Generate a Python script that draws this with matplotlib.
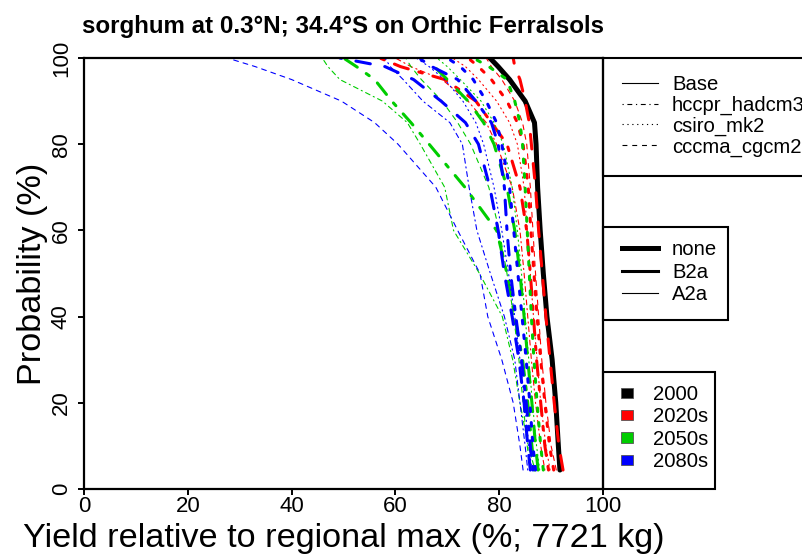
import numpy as np
import matplotlib.pyplot as plt
from matplotlib.lines import Line2D
from matplotlib.patches import Patch, Rectangle

plt.rcParams['font.family'] = 'Liberation Sans'

# probability levels (%) shared by all curves
prob = [4.4, 10, 20, 30, 40, 50, 60, 70, 80, 85, 90, 95, 98, 100]

# yield relative to regional max (%) at each probability level
base_2000 = [91.7, 91.4, 90.9, 90.2, 89.2, 88.5, 87.9, 87.4, 87.1, 86.8, 85.0, 82.0, 79.8, 78.2]

hccpr_b2a_2020s = [89.5, 88.8, 88.0, 87.2, 86.6, 86.0, 85.3, 84.0, 81.5, 78.5, 75.5, 69.5, 61.0, 57.0]
hccpr_a2a_2020s = [88.8, 88.0, 87.0, 86.2, 85.5, 84.8, 84.0, 82.5, 79.5, 77.5, 74.0, 69.0, 63.0, 60.0]
csiro_b2a_2020s = [90.5, 89.7, 88.8, 88.0, 87.3, 86.7, 86.1, 85.6, 84.6, 83.5, 81.5, 78.5, 76.0, 74.0]
csiro_a2a_2020s = [89.8, 89.0, 88.0, 87.3, 86.6, 86.0, 85.4, 84.8, 83.5, 82.0, 79.5, 76.0, 73.5, 71.0]
cccma_b2a_2020s = [92.3, 91.5, 90.6, 89.8, 89.0, 88.3, 87.6, 87.0, 86.2, 85.8, 85.0, 84.0, 83.0, 82.7]
cccma_a2a_2020s = [91.0, 90.0, 89.0, 88.2, 87.6, 87.0, 86.5, 86.0, 85.3, 84.5, 83.0, 80.5, 78.5, 77.5]

hccpr_b2a_2050s = [86.8, 86.3, 85.5, 84.5, 83.0, 81.5, 79.5, 73.4, 66.5, 63.0, 59.3, 56.0, 52.5, 50.0]
hccpr_a2a_2050s = [86.9, 85.6, 84.0, 82.6, 80.6, 76.2, 71.2, 69.5, 64.8, 62.3, 57.5, 49.3, 47.0, 45.9]
csiro_b2a_2050s = [88.5, 88.0, 87.3, 86.7, 86.2, 85.8, 85.4, 85.0, 84.5, 84.0, 83.0, 81.5, 78.0, 75.0]
csiro_a2a_2050s = [87.8, 87.2, 86.4, 85.7, 85.0, 84.3, 83.5, 82.5, 80.8, 79.0, 76.5, 72.5, 70.0, 68.0]
cccma_b2a_2050s = [87.5, 87.0, 86.3, 85.5, 84.8, 84.0, 83.0, 81.5, 79.0, 77.0, 74.0, 70.0, 67.5, 66.0]
cccma_a2a_2050s = [86.0, 85.4, 84.6, 83.8, 82.8, 81.5, 80.0, 78.0, 74.5, 72.0, 69.0, 65.0, 63.0, 62.0]

hccpr_b2a_2080s = [86.5, 86.0, 85.2, 84.3, 83.2, 82.2, 81.5, 81.0, 79.8, 78.5, 75.5, 72.0, 67.0, 64.5]
hccpr_a2a_2080s = [85.5, 85.0, 84.0, 83.0, 81.0, 78.3, 75.7, 74.2, 72.9, 70.5, 65.3, 61.5, 59.0, 58.0]
csiro_b2a_2080s = [87.0, 86.5, 85.9, 85.2, 84.4, 83.6, 82.8, 82.0, 80.5, 79.5, 77.5, 75.0, 72.5, 70.0]
csiro_a2a_2080s = [86.3, 85.7, 84.9, 84.0, 83.0, 81.8, 80.5, 79.0, 77.0, 75.5, 73.0, 69.5, 66.5, 64.0]
cccma_b2a_2080s = [86.0, 85.5, 84.8, 83.8, 82.5, 81.0, 79.8, 78.2, 76.0, 73.5, 68.8, 63.5, 58.0, 49.3]
cccma_a2a_2080s = [84.6, 84.0, 82.7, 80.5, 77.8, 76.3, 72.0, 67.8, 60.5, 56.0, 49.6, 40.0, 33.0, 27.6]

gcm_names = ['Base', 'hccpr_hadcm3', 'csiro_mk2', 'cccma_cgcm2']
scen_names = ['none', 'B2a', 'A2a']
period_names = ['2000', '2020s', '2050s', '2080s']

curves = [
    ('Base', 'none', '2000', base_2000),
    ('hccpr_hadcm3', 'B2a', '2020s', hccpr_b2a_2020s),
    ('hccpr_hadcm3', 'A2a', '2020s', hccpr_a2a_2020s),
    ('csiro_mk2', 'B2a', '2020s', csiro_b2a_2020s),
    ('csiro_mk2', 'A2a', '2020s', csiro_a2a_2020s),
    ('cccma_cgcm2', 'B2a', '2020s', cccma_b2a_2020s),
    ('cccma_cgcm2', 'A2a', '2020s', cccma_a2a_2020s),
    ('hccpr_hadcm3', 'B2a', '2050s', hccpr_b2a_2050s),
    ('hccpr_hadcm3', 'A2a', '2050s', hccpr_a2a_2050s),
    ('csiro_mk2', 'B2a', '2050s', csiro_b2a_2050s),
    ('csiro_mk2', 'A2a', '2050s', csiro_a2a_2050s),
    ('cccma_cgcm2', 'B2a', '2050s', cccma_b2a_2050s),
    ('cccma_cgcm2', 'A2a', '2050s', cccma_a2a_2050s),
    ('hccpr_hadcm3', 'B2a', '2080s', hccpr_b2a_2080s),
    ('hccpr_hadcm3', 'A2a', '2080s', hccpr_a2a_2080s),
    ('csiro_mk2', 'B2a', '2080s', csiro_b2a_2080s),
    ('csiro_mk2', 'A2a', '2080s', csiro_a2a_2080s),
    ('cccma_cgcm2', 'B2a', '2080s', cccma_b2a_2080s),
    ('cccma_cgcm2', 'A2a', '2080s', cccma_a2a_2080s),
]

## styles ##################################

period_cols = {'2000': 'black', '2020s': '#FF0000', '2050s': '#00CD00', '2080s': '#0000FF'}
scen_lw = {'none': 3.6, 'B2a': 2.2, 'A2a': 0.8}
dash_unit = {'none': 1.1, 'B2a': 1.2, 'A2a': 1.1}
gcm_pattern = {'Base': None, 'hccpr_hadcm3': [1, 3, 4, 3], 'csiro_mk2': [1, 3], 'cccma_cgcm2': [4, 4]}


def line_style(gcm, scen):
    pat = gcm_pattern[gcm]
    if pat is None:
        return '-'
    return (0, [p * dash_unit[scen] for p in pat])


def fx(px):
    return px / 803


def fy(py):
    return 1 - py / 556


## figure ##################################

fig = plt.figure(figsize=(8.03, 5.56), dpi=100)
ax = fig.add_axes([fx(84), fy(489), fx(603) - fx(84), fy(58) - fy(489)])

for gcm, scen, period, vals in curves:
    ax.plot(vals, prob, color=period_cols[period], lw=scen_lw[scen],
            linestyle=line_style(gcm, scen), dash_capstyle='round', solid_capstyle='round')

ax.set_xlim(0, 100)
ax.set_ylim(0, 100)
ax.set_xticks([0, 20, 40, 60, 80, 100])
ax.set_yticks([0, 20, 40, 60, 80, 100])
for s in ax.spines.values():
    s.set_linewidth(1.6)
ax.tick_params(axis='both', direction='out', length=4.3, width=1.4, labelsize=16)
ax.tick_params(axis='x', pad=1)
ax.tick_params(axis='y', pad=4.5, labelrotation=90)
for lab in ax.get_yticklabels():
    lab.set_verticalalignment('center')

ax.set_xlabel('Yield relative to regional max (%; 7721 kg)', fontsize=24.7, labelpad=4)
ax.set_ylabel('Probability (%)', fontsize=24.7, labelpad=2)
ax.set_title('sorghum at 0.3°N; 34.4°S on Orthic Ferralsols', fontsize=17.4,
             fontweight='bold', pad=18)

## legends #################################

boxes = [(603, 58, 830, 176), (603, 227, 728, 320), (603, 372, 715, 489)]
for x0, y0, x1, y1 in boxes:
    fig.add_artist(Rectangle((fx(x0), fy(y1)), fx(x1) - fx(x0), fy(y0) - fy(y1),
                             transform=fig.transFigure, fill=False, ec='black', lw=1.5))

gcm_handles = [Line2D([], [], color='black', lw=0.8, linestyle=line_style(g, 'A2a'))
               for g in gcm_names]
scen_handles = [Line2D([], [], color='black', lw=scen_lw[s]) for s in scen_names]
period_handles = [Patch(facecolor=period_cols[p], edgecolor='#555555', lw=0.6)
                  for p in period_names]

leg_opts = dict(loc='upper left', bbox_transform=fig.transFigure, frameon=False,
                borderpad=0, borderaxespad=0, fontsize=14.6)
fig.legend(gcm_handles, gcm_names, bbox_to_anchor=(fx(622), fy(75)),
           handlelength=1.77, handletextpad=0.69, labelspacing=0.08, **leg_opts)
fig.legend(scen_handles, scen_names, bbox_to_anchor=(fx(622), fy(240)),
           handlelength=1.77, handletextpad=0.69, labelspacing=0.18, **leg_opts)
fig.legend(period_handles, period_names, bbox_to_anchor=(fx(621), fy(385)),
           handlelength=0.6, handleheight=0.42, handletextpad=0.98, labelspacing=0.17,
           **leg_opts)

fig.savefig('out.png', dpi=100)
